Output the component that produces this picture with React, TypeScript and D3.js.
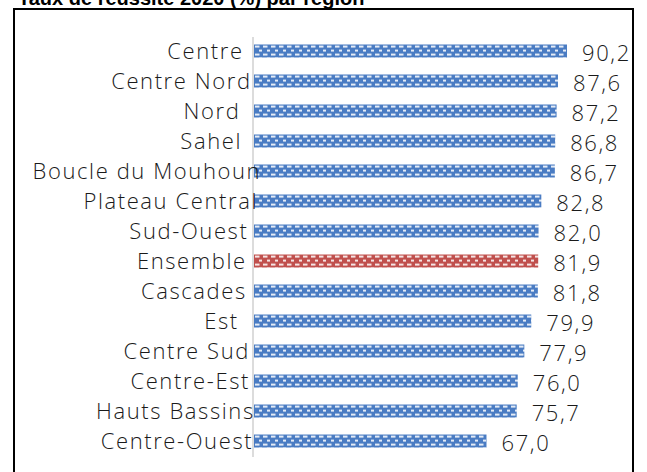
import React from "react";
import * as d3 from "d3";

const regions = [
  "Centre",
  "Centre Nord",
  "Nord",
  "Sahel",
  "Boucle du Mouhoun",
  "Plateau Central",
  "Sud-Ouest",
  "Ensemble",
  "Cascades",
  "Est",
  "Centre Sud",
  "Centre-Est",
  "Hauts Bassins",
  "Centre-Ouest",
];
const values = [90.2, 87.6, 87.2, 86.8, 86.7, 82.8, 82.0, 81.9, 81.8, 79.9, 77.9, 76.0, 75.7, 67.0];
const highlight = "Ensemble";
const title = "Taux de réussite 2020 (%) par région";

const W = 647;
const H = 472;
const FONT_SIZE = 22;
const FONT = "'Open Sans', sans-serif";
const LS = 1.6;

let ctx: CanvasRenderingContext2D | null = null;
function measure(s: string): number {
  if (!ctx) {
    const c = document.createElement("canvas");
    ctx = c.getContext("2d");
  }
  if (!ctx) return s.length * 11.5;
  ctx.font = `300 ${FONT_SIZE}px 'Open Sans', sans-serif`;
  return ctx.measureText(s).width;
}

export default function App() {
  const x = d3.scaleLinear().domain([0, 100]).range([254, 254 + 347]);
  const y = d3
    .scaleBand<string>()
    .domain(regions)
    .range([36, 456])
    .paddingInner(0.567)
    .paddingOuter(0.283);
  const fmt = (v: number) => d3.format(".1f")(v).replace(".", ",");
  const bh = y.bandwidth();

  return (
    <svg width={W} height={H} style={{ position: "absolute", left: 0, top: 0, background: "#fff" }}>
      <defs>
        {[
          ["patBlue", "#4a7cc3"],
          ["patRed", "#c0504d"],
        ].map(([id, c]) => (
          <pattern key={id} id={id} patternUnits="userSpaceOnUse" width={8} height={8}>
            <rect width={8} height={8} fill={c} />
            <rect x={1} y={1.3} width={4.5} height={1.7} fill="#fff" />
            <rect x={5} y={5.3} width={4.5} height={1.7} fill="#fff" />
            <rect x={-3} y={5.3} width={1.5} height={1.7} fill="#fff" />
          </pattern>
        ))}
      </defs>
      <rect x={0} y={0} width={W} height={H} fill="#fff" />
      <text
        x={18}
        y={4.5}
        fontFamily="'Liberation Sans', Arial, sans-serif"
        fontWeight="bold"
        fontSize={20}
        fill="#000"
      >
        {title}
      </text>
      <rect x={14} y={9} width={619} height={480} fill="none" stroke="#000" strokeWidth={2} />
      <line x1={253} x2={253} y1={37} y2={457} stroke="#d0d0d0" strokeWidth={1.5} />
      {regions.map((r, i) => {
        const v = values[i];
        const yy = y(r)!;
        return (
          <g key={r} transform={`translate(${x(0)},${yy})`}>
            <rect
              x={0}
              y={0}
              width={x(v) - x(0)}
              height={bh}
              fill={r === highlight ? "url(#patRed)" : "url(#patBlue)"}
            />
          </g>
        );
      })}
      {regions.map((r, i) => {
        const v = values[i];
        const cy = y(r)! + bh / 2;
        const w0 = measure(r);
        return (
          <g key={r + "-t"}>
            <text
              x={234 - w0}
              y={cy}
              dy="0.36em"
              fontFamily={FONT}
              fontWeight={300}
              fontSize={FONT_SIZE}
              letterSpacing={LS}
              fill="#1a1a1a"
            >
              {r}
            </text>
            <text
              x={x(v) + 15}
              y={cy + 2}
              dy="0.36em"
              fontFamily={FONT}
              fontWeight={300}
              fontSize={FONT_SIZE}
              letterSpacing={LS}
              fill="#1a1a1a"
            >
              {fmt(v)}
            </text>
          </g>
        );
      })}
    </svg>
  );
}
